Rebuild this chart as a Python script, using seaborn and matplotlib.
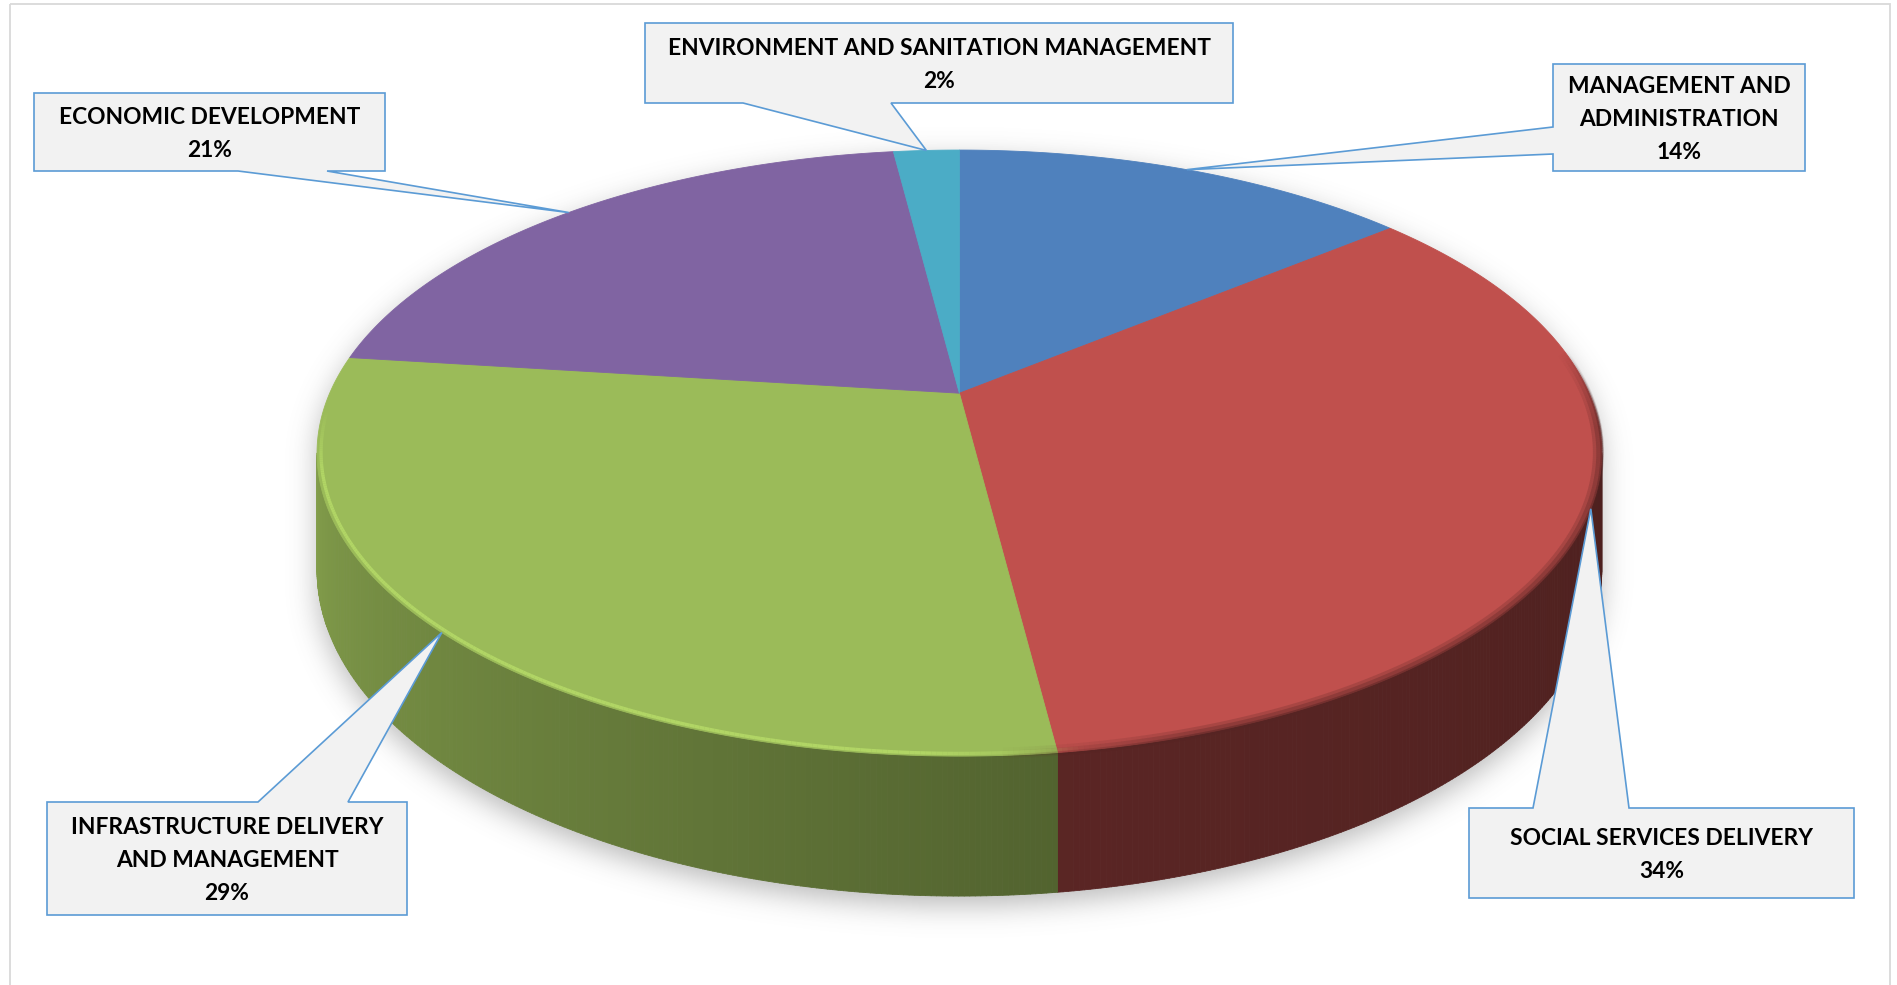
import numpy as np
import matplotlib
matplotlib.use("Agg")
import matplotlib.pyplot as plt
import seaborn as sns
from matplotlib.patches import Polygon, Rectangle
from matplotlib.collections import PolyCollection, LineCollection
from matplotlib.path import Path
from matplotlib.colors import to_rgb

# ---- data -------------------------------------------------------------
categories = [
    "MANAGEMENT AND ADMINISTRATION",
    "SOCIAL SERVICES DELIVERY",
    "INFRASTRUCTURE DELIVERY AND MANAGEMENT",
    "ECONOMIC DEVELOPMENT",
    "ENVIRONMENT AND SANITATION MANAGEMENT",
]
shares = [14, 34, 29, 21, 2]
label_lines = [
    ["MANAGEMENT AND", "ADMINISTRATION"],
    ["SOCIAL SERVICES DELIVERY"],
    ["INFRASTRUCTURE DELIVERY", "AND MANAGEMENT"],
    ["ECONOMIC DEVELOPMENT"],
    ["ENVIRONMENT AND SANITATION MANAGEMENT"],
]
slice_colors = ["#4f81bd", "#c0504d", "#9bbb59", "#8064a2", "#4bacc6"]

# ---- style / layout ---------------------------------------------------
sns.set_theme(style="white")
FONT = ["Lato", "DejaVu Sans"]
plt.rcParams["font.family"] = FONT

W, H = 1897, 985
DPI = 100
fig = plt.figure(figsize=(W / DPI, H / DPI), dpi=DPI)
ax = fig.add_axes([0, 0, 1, 1])
ax.set_xlim(0, W)
ax.set_ylim(H, 0)
ax.axis("off")

# perspective disc: apex, horizontal scale, depth scale, perspective, thickness
CX, CY = 959.4, 393.2
SX, SZ, K = 629.7, 291.2, 0.1976
DEPTH = 112.3
PHI_R = np.degrees(np.arccos(-K))      # right silhouette angle
PHI_L = 360.0 - PHI_R                  # left silhouette angle
# side brightness at the start / end angle of each slice's visible wall
SIDE_SHADE = [(0.45, 0.45), (0.40, 0.47), (0.53, 0.84), (0.60, 0.80), (0.50, 0.50)]


def rim_points(a0, a1, r=1.0, drop=0.0, step=0.4):
    n = max(int(abs(a1 - a0) / step), 2)
    ang = np.radians(np.linspace(a0, a1, n))
    x = r * np.sin(ang)
    z = r * np.cos(ang)
    d = 1 + K * z
    return np.column_stack([CX + SX * x / d, CY - SZ * z / d + drop / d])


total = float(sum(shares))
spans = [360.0 * v / total for v in shares]
starts = np.concatenate([[0.0], np.cumsum(spans)[:-1]])
ends = starts + np.array(spans)

# ---- soft drop shadow -------------------------------------------------
top_arc = rim_points(PHI_L - 360.0, PHI_R)
bot_arc = rim_points(PHI_R, PHI_L, drop=DEPTH)
outline = np.vstack([top_arc, bot_arc])
shadow_outline = outline.copy()
shadow_outline[:, 1] += 10
gx = np.arange(0, W, 2) + 1.0
gy = np.arange(0, H, 2) + 1.0
GX, GY = np.meshgrid(gx, gy)
mask = Path(shadow_outline).contains_points(
    np.column_stack([GX.ravel(), GY.ravel()])).reshape(GX.shape).astype(float)


def blur_matrix(n, sigma):
    idx = np.arange(n)
    m = np.exp(-0.5 * ((idx[:, None] - idx[None, :]) / sigma) ** 2)
    return m / m.sum(axis=1, keepdims=True)


blurred = blur_matrix(len(gy), 7.0) @ mask @ blur_matrix(len(gx), 7.0).T
rgba = np.zeros(mask.shape + (4,))
rgba[..., :3] = 0.35
rgba[..., 3] = 0.42 * blurred
ax.imshow(rgba, extent=(0, W, H, 0), origin="upper", interpolation="bilinear",
          aspect="auto", zorder=1)

# ---- side walls -------------------------------------------------------
quads, qcolors = [], []
for i, (a0, a1) in enumerate(zip(starts, ends)):
    s0, s1 = max(a0, PHI_R), min(a1, PHI_L)
    if s1 <= s0:
        continue
    top = rim_points(s0, s1)
    bot = rim_points(s0, s1, drop=DEPTH)
    base = np.array(to_rgb(slice_colors[i]))
    lo, hi = SIDE_SHADE[i]
    n = len(top)
    for j in range(n - 1):
        t = (j + 0.5) / (n - 1)
        quads.append([top[j], top[j + 1], bot[j + 1], bot[j]])
        qcolors.append(np.clip(base * (lo + (hi - lo) * t), 0, 1))
ax.add_collection(PolyCollection(quads, facecolors=qcolors, edgecolors=qcolors,
                                 linewidths=0.6, zorder=2))

# ---- top face wedges --------------------------------------------------
for i, (a0, a1) in enumerate(zip(starts, ends)):
    pts = np.vstack([[CX, CY], rim_points(a0, a1)])
    ax.add_patch(Polygon(pts, closed=True, facecolor=slice_colors[i],
                         edgecolor=slice_colors[i], linewidth=0.6, zorder=3))


def faded_rim(a0, a1, r, color, lw, alpha, fade_deg):
    """Rim stroke whose opacity ramps in/out over fade_deg at both ends."""
    pts = rim_points(a0, a1, r=r)
    segs = np.stack([pts[:-1], pts[1:]], axis=1)
    ang = np.linspace(a0, a1, len(pts))[:-1]
    ramp = np.clip(np.minimum(ang - a0, a1 - ang) / fade_deg, 0, 1)
    cols = [(*color, alpha * w) for w in ramp]
    ax.add_collection(LineCollection(segs, colors=cols, linewidths=lw,
                                     capstyle="butt", zorder=4))


# bevel along the front rim of the top face
for i, (a0, a1) in enumerate(zip(starts, ends)):
    base = np.array(to_rgb(slice_colors[i]))
    if base[1] > base[0]:
        s0, s1 = max(a0, PHI_R), min(a1, PHI_L + 8)
        if s1 > s0:
            faded_rim(s0 - 2, s1, 0.994, tuple(np.clip(base * 1.16, 0, 1)),
                      2.4, 0.9, 12)
    else:
        s0, s1 = max(a0, PHI_R - 20), min(a1, PHI_L)
        if s1 > s0:
            for r, lw, a in [(0.995, 8, 0.22), (0.997, 5, 0.3), (1.0, 2, 0.45)]:
                faded_rim(s0, s1 + 4, r, tuple(base * 0.45), lw, a, 15)

# ---- callouts ---------------------------------------------------------
# box (x0, y0, x1, y1), side the pointer leaves from, and its two base points
callouts = [
    dict(box=(1553, 64, 1805, 171), side="left", base=(127, 154)),
    dict(box=(1469, 808, 1854, 898), side="top", base=(1533, 1629)),
    dict(box=(47, 802, 407, 915), side="top", base=(258, 348)),
    dict(box=(34, 93, 385, 171), side="bottom", base=(238, 327)),
    dict(box=(645, 23, 1233, 103), side="bottom", base=(743, 891)),
]
BOX_FACE = "#f2f2f2"
BOX_EDGE = "#5b9bd5"

for i, c in enumerate(callouts):
    mid = (starts[i] + ends[i]) / 2.0
    tip = rim_points(mid, mid + 0.01)[0]
    x0, y0, x1, y1 = c["box"]
    b0, b1 = c["base"]
    if c["side"] == "bottom":
        pts = [(x0, y0), (x1, y0), (x1, y1), (b1, y1), tip, (b0, y1), (x0, y1)]
    elif c["side"] == "top":
        pts = [(x0, y0), (b0, y0), tip, (b1, y0), (x1, y0), (x1, y1), (x0, y1)]
    else:
        pts = [(x0, y0), (x1, y0), (x1, y1), (x0, y1), (x0, b1), tip, (x0, b0)]
    ax.add_patch(Polygon(pts, closed=True, facecolor=BOX_FACE, edgecolor=BOX_EDGE,
                         linewidth=1.2, joinstyle="miter", zorder=5))

# font size fitted to the widths of the first label lines
target_widths = [225, 299, 309, 298, 546]
renderer = fig.canvas.get_renderer()
probe_size = 17.0
measured = []
for lines in label_lines:
    t = ax.text(0, 0, lines[0], fontsize=probe_size, fontweight="bold", family=FONT)
    measured.append(t.get_window_extent(renderer).width)
    t.remove()
fs = probe_size * sum(target_widths) / sum(measured)
em_px = fs * DPI / 72.0
CAP = 0.7165 * em_px
LINE_GAP = 33.0

for i, c in enumerate(callouts):
    x0, y0, x1, y1 = c["box"]
    pct = int(round(100.0 * shares[i] / total))
    lines = label_lines[i] + [f"{pct}%"]
    xc = (x0 + x1) / 2.0
    yc = (y0 + y1) / 2.0
    first = yc - LINE_GAP * (len(lines) - 1) / 2.0
    for j, line in enumerate(lines):
        ax.text(xc, first + j * LINE_GAP + CAP / 2.0, line, ha="center",
                va="baseline", fontsize=fs, fontweight="bold", color="#000000",
                family=FONT, zorder=6)

# chart area frame
ax.add_patch(Rectangle((10, 4), 1880, 1000, fill=False, edgecolor="#d9d9d9",
                       linewidth=1.3, zorder=7))

fig.savefig("out.png", dpi=DPI)
